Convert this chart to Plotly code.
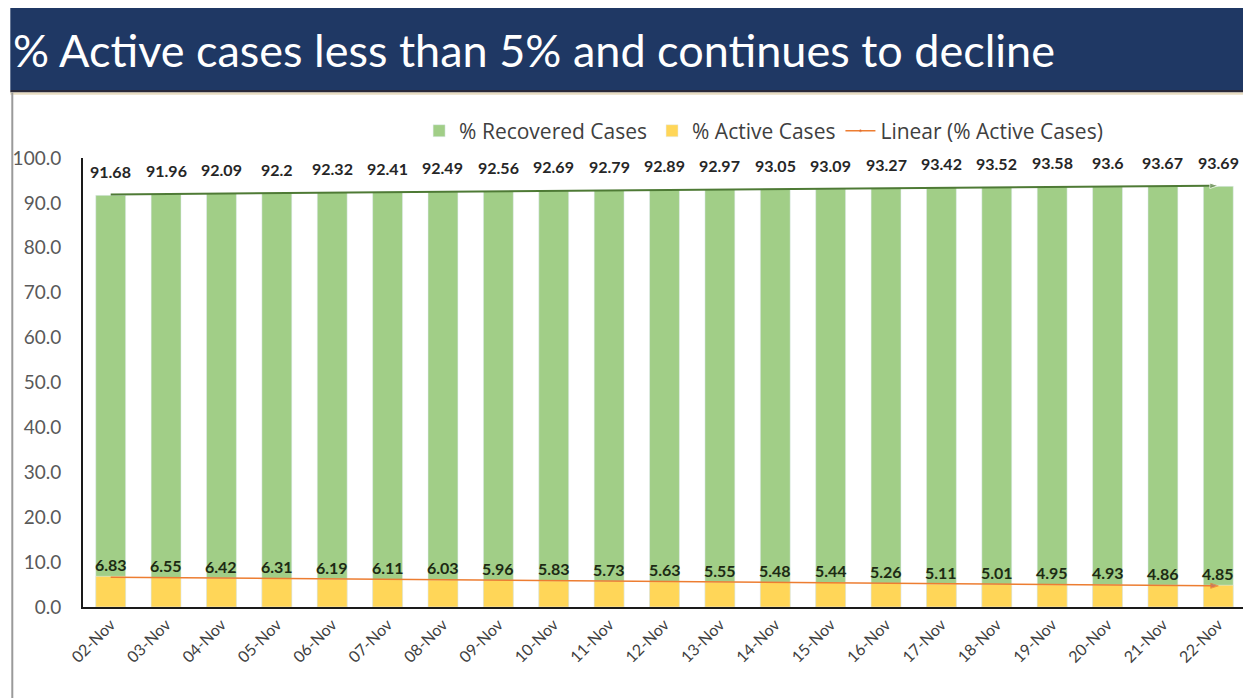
import numpy as np
import plotly.graph_objects as go

dates = ["02-Nov", "03-Nov", "04-Nov", "05-Nov", "06-Nov", "07-Nov", "08-Nov", "09-Nov",
         "10-Nov", "11-Nov", "12-Nov", "13-Nov", "14-Nov", "15-Nov", "16-Nov", "17-Nov",
         "18-Nov", "19-Nov", "20-Nov", "21-Nov", "22-Nov"]
recovered = [91.68, 91.96, 92.09, 92.2, 92.32, 92.41, 92.49, 92.56, 92.69, 92.79, 92.89,
             92.97, 93.05, 93.09, 93.27, 93.42, 93.52, 93.58, 93.6, 93.67, 93.69]
active = [6.83, 6.55, 6.42, 6.31, 6.19, 6.11, 6.03, 5.96, 5.83, 5.73, 5.63,
          5.55, 5.48, 5.44, 5.26, 5.11, 5.01, 4.95, 4.93, 4.86, 4.85]
title_text = "% Active cases less than 5% and continues to decline"

idx = np.arange(len(dates))
rec_fit = np.polyval(np.polyfit(idx, recovered, 1), idx)
act_fit = np.polyval(np.polyfit(idx, active, 1), idx)

GREEN = "#A1CE87"
YELLOW = "#FFD658"
FONT = "Lato"

fig = go.Figure()
fig.add_trace(go.Bar(x=dates, y=recovered, name="% Recovered Cases", marker_color=GREEN))
fig.add_trace(go.Bar(x=dates, y=active, name="% Active Cases", marker_color=YELLOW))
n = len(dates)
fig.add_trace(go.Scatter(
    x=dates, y=rec_fit, mode="lines+markers", showlegend=False,
    line=dict(color="#4E7A35", width=2),
    marker=dict(symbol=["circle"] * (n - 1) + ["arrow"],
                size=[0] * (n - 1) + [9], angleref="previous", color="#4E7A35"),
    cliponaxis=False, hoverinfo="skip",
))
fig.add_trace(go.Scatter(
    x=dates, y=act_fit, mode="lines+markers", name="Linear (% Active Cases)",
    line=dict(color="#ED7D31", width=1.5),
    marker=dict(symbol=["circle"] * (n - 1) + ["arrow"],
                size=[0] * (n - 1) + [8], angleref="previous", color="#C0504D"),
    cliponaxis=False, hoverinfo="skip",
))

annotations = []
for d, v in zip(dates, recovered):
    annotations.append(dict(x=d, y=v, text=f"{v:g}", showarrow=False, yshift=24,
                            font=dict(family=FONT, size=16, color="#262626", weight="bold")))
for d, v in zip(dates, active):
    annotations.append(dict(x=d, y=v, text=f"{v:g}", showarrow=False, yshift=12,
                            font=dict(family=FONT, size=16, color="#1d2a14", weight="bold")))
annotations.append(dict(text=title_text, xref="paper", yref="paper", x=-0.0615, y=1.2405,
                        xanchor="left", yanchor="middle", showarrow=False,
                        font=dict(family=FONT, size=45, color="white")))
annotations.append(dict(text="", xref="paper", yref="y", x=0, y=100.8, ax=0, ay=14,
                        showarrow=True, arrowhead=2, arrowsize=1, arrowwidth=2,
                        arrowcolor="#1a1a1a"))

fig.update_layout(
    width=1243, height=690,
    margin=dict(l=72, r=5, t=150, b=91),
    paper_bgcolor="white", plot_bgcolor="white",
    barmode="overlay", bargap=0.46,
    font=dict(family=FONT, color="#404040"),
    showlegend=True,
    legend=dict(orientation="h", x=0.289, xanchor="left", y=1.06, yanchor="middle",
                font=dict(family="Open Sans", size=21, color="#404040"), itemwidth=30,
                traceorder="normal", bgcolor="rgba(0,0,0,0)"),
    xaxis=dict(showline=True, linecolor="#1a1a1a", linewidth=2, tickangle=-45,
               tickfont=dict(size=16, color="#404040"), showgrid=False,
               ticks="", range=[-0.5, n - 0.5]),
    yaxis=dict(range=[0, 100], dtick=10, tickformat=".1f", showgrid=False,
               showline=True, linecolor="#1a1a1a", linewidth=2, zeroline=False,
               tickfont=dict(size=19, color="#595959"), ticks="",
               ticklabelstandoff=16),
    shapes=[
        dict(type="rect", xref="paper", yref="paper", x0=-0.0625, x1=1.01,
             y0=1.1514, y1=1.336, fillcolor="#1F3864", line_width=0, layer="below"),
        dict(type="rect", xref="paper", yref="paper", x0=-0.0625, x1=1.01,
             y0=1.146, y1=1.1514, fillcolor="#2a2a3a", line_width=0, layer="below"),
        dict(type="rect", xref="paper", yref="paper", x0=-0.0625, x1=1.01,
             y0=1.141, y1=1.146, fillcolor="#E8DCC0", line_width=0, layer="below"),
        dict(type="line", xref="paper", yref="paper", x0=-0.0608, x1=-0.0608,
             y0=-0.21, y1=1.146, line=dict(color="#9a9a9a", width=2)),
    ],
    annotations=annotations,
)

fig.write_html("out.html")
